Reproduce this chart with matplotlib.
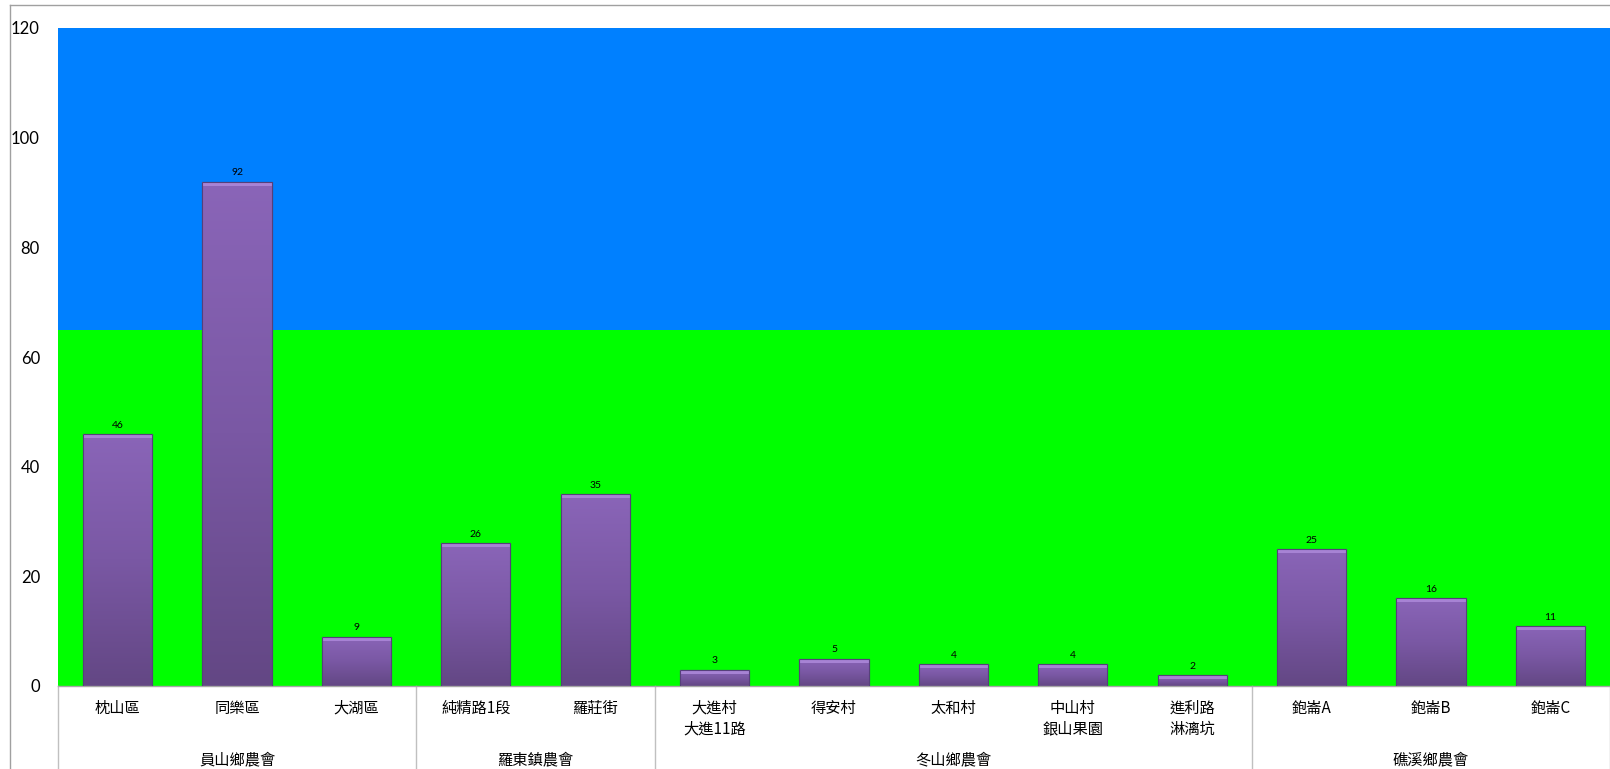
import numpy as np
import matplotlib
matplotlib.use("Agg")
import matplotlib.pyplot as plt
from matplotlib.lines import Line2D
from matplotlib.colors import LinearSegmentedColormap
import matplotlib.transforms as mtransforms

plt.rcParams['font.family'] = ['Noto Sans CJK TC', 'DejaVu Sans']

# 資料
categories = ['枕山區', '同樂區', '大湖區', '純精路1段', '羅莊街',
              '大進村\n大進11路', '得安村', '太和村', '中山村\n銀山果園', '進利路\n淋漓坑',
              '鉋崙A', '鉋崙B', '鉋崙C']
values = [46, 92, 9, 26, 35, 3, 5, 4, 4, 2, 25, 16, 11]
groups = ['員山鄉農會', '羅東鎮農會', '冬山鄉農會', '礁溪鄉農會']
group_sizes = [3, 2, 5, 3]
band_low = 65      # 綠色區間上限
y_max = 120
y_ticks = [0, 20, 40, 60, 80, 100, 120]

W, H = 1610, 769
fig = plt.figure(figsize=(W / 100, H / 100), dpi=100)
ax = fig.add_axes([58 / W, (H - 686) / H, (W - 58) / W, (686 - 28) / H])

n = len(categories)
x = np.arange(n)
ax.set_xlim(-0.5, n - 0.5)
ax.set_ylim(0, y_max)

# 背景色帶
ax.axhspan(0, band_low, color='#00FF00', zorder=0, lw=0)
ax.axhspan(band_low, y_max, color='#0080FF', zorder=0, lw=0)

# 長條 (漸層)
bars = ax.bar(x, values, width=0.58, color='#76559f', edgecolor='#56407a',
              linewidth=0.8, zorder=2)
cmap = LinearSegmentedColormap.from_list('purp', ['#634784', '#7a58a4', '#8a65b8'])
grad = np.linspace(0, 1, 256).reshape(-1, 1)
bevel = y_max * 4 / 658
for b, v in zip(bars, values):
    x0 = b.get_x()
    w = b.get_width()
    im = ax.imshow(grad, cmap=cmap, aspect='auto', origin='lower',
                   extent=(x0, x0 + w, 0, v), zorder=2.5)
    im.set_clip_path(b)
    ax.add_patch(plt.Rectangle((x0, v - bevel), w, bevel, facecolor='#a783d4',
                               edgecolor='none', zorder=3))
    ax.add_patch(plt.Rectangle((x0, 0), w, v, facecolor='none',
                               edgecolor='#56407a', linewidth=0.8, zorder=3.5))
    ax.annotate(str(v), (x0 + w / 2, v), xytext=(0, 3), textcoords='offset points',
                ha='center', va='bottom', fontsize=7.5, color='black',
                family=['Lato', 'DejaVu Sans'])

# 座標軸
for s in ['top', 'right', 'left']:
    ax.spines[s].set_visible(False)
ax.spines['bottom'].set_color('#a6a6a6')
ax.spines['bottom'].set_linewidth(1)
ax.set_xticks([])
ax.set_yticks(y_ticks)
ax.set_yticklabels([str(t) for t in y_ticks], fontsize=12,
                   family=['Lato', 'DejaVu Sans'])
ax.tick_params(axis='y', length=0, pad=13)

trans = mtransforms.blended_transform_factory(ax.transData, ax.transAxes)
px = 1 / 658
for i, lab in enumerate(categories):
    lines = lab.split('\n')
    for j, ln in enumerate(lines):
        ax.text(i, -(22 + 21 * j) * px, ln, transform=trans, ha='center',
                va='center', fontsize=11, clip_on=False)

# 分組標籤與分隔線
start = 0
bounds = [-0.5]
for g, size in zip(groups, group_sizes):
    mid = start + (size - 1) / 2
    ax.text(mid, -74 * px, g, transform=trans, ha='center', va='center',
            fontsize=11, clip_on=False)
    start += size
    bounds.append(start - 0.5)
for bx in bounds:
    ax.plot([bx, bx], [0, -0.2], transform=trans, color='#c0c0c0', lw=1,
            clip_on=False)

# 圖表外框
fig.add_artist(Line2D([10 / W, 10 / W], [0, 1 - 5 / H], color='#a0a0a0', lw=1))
fig.add_artist(Line2D([10 / W, 1], [1 - 5 / H, 1 - 5 / H], color='#a0a0a0', lw=1))

fig.savefig('out.png', dpi=100, facecolor='white')
